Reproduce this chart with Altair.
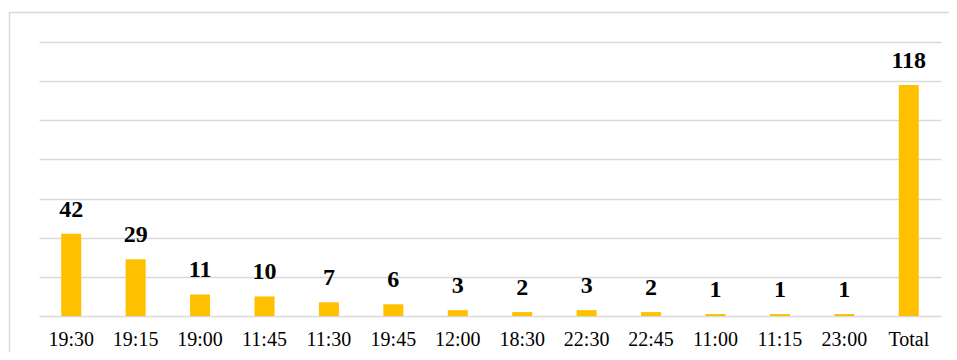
import altair as alt
import pandas as pd

categories = ["19:30", "19:15", "19:00", "11:45", "11:30", "19:45", "12:00",
              "18:30", "22:30", "22:45", "11:00", "11:15", "23:00", "Total"]
values = [42, 29, 11, 10, 7, 6, 3, 2, 3, 2, 1, 1, 1, 118]
grid_values = [0, 20, 40, 60, 80, 100, 120, 140]

df = pd.DataFrame({"cat": categories, "val": values})

x_enc = alt.X("cat:N", sort=categories, title=None,
              scale=alt.Scale(paddingInner=0, paddingOuter=0),
              axis=alt.Axis(labelFont="Liberation Serif", labelFontSize=20,
                            labelColor="#000000", labelAngle=0, labelPadding=13,
                            ticks=False, domain=False, grid=False))
y_enc = alt.Y("val:Q", title=None,
              scale=alt.Scale(domain=[0, 140], nice=False),
              axis=alt.Axis(values=grid_values, tickCount=8, labels=False,
                            labelOverlap=False, ticks=False,
                            domain=False, grid=True, gridColor="#d9d9d9",
                            gridWidth=1.3))

base = alt.Chart(df)
bars = base.mark_bar(color="#FFC000", size=20).encode(x=x_enc, y=y_enc)
labels = base.mark_text(font="Liberation Serif", fontSize=24, fontWeight="bold",
                        color="#000000", baseline="alphabetic", dy=-17).encode(
    x=alt.X("cat:N", sort=categories), y=alt.Y("val:Q"), text=alt.Text("val:Q"))

frame = alt.Chart(pd.DataFrame({"a": [0]})).mark_rect(
    fill=None, stroke="#d9d9d9", strokeWidth=1.5).encode(
    x=alt.value(-29.5), x2=alt.value(1000), y=alt.value(-29.5), y2=alt.value(500))

chart = alt.layer(frame, bars, labels).properties(
    width=902, height=274,
    autosize=alt.AutoSizeParams(type="none"),
    padding={"left": 31, "top": 34, "right": 8, "bottom": 36},
).configure_view(stroke=None)

chart.save("out.html", embed_options={"renderer": "svg", "actions": False})
